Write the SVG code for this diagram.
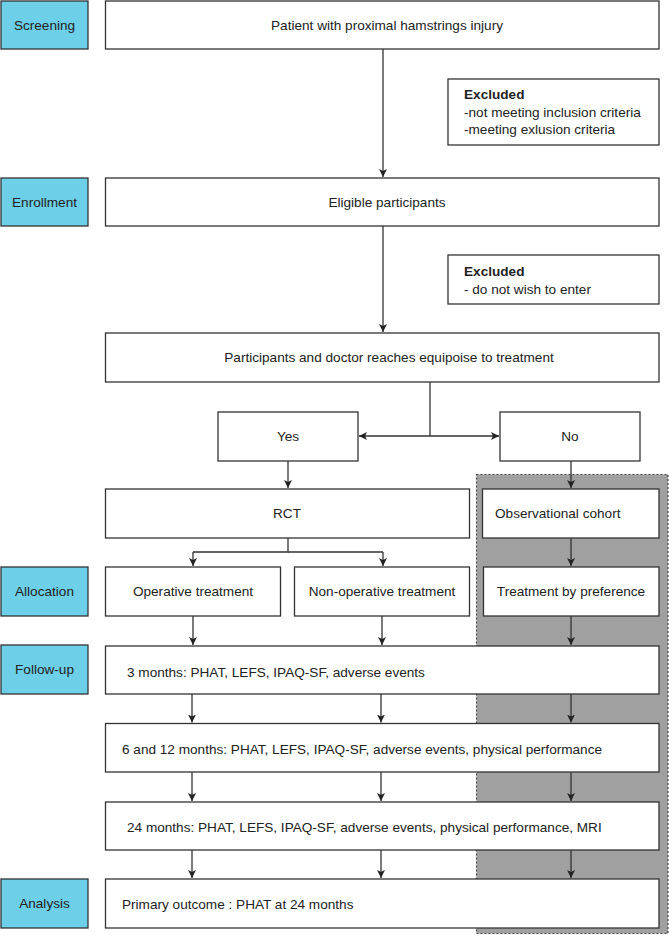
<svg xmlns="http://www.w3.org/2000/svg" width="669" height="938" viewBox="0 0 669 938">
<defs>
<marker id="arr" viewBox="0 0 10 10" refX="10" refY="5" markerWidth="8" markerHeight="8" markerUnits="userSpaceOnUse" orient="auto">
<path d="M0,0 L10,5 L0,10 L2.5,5 Z" fill="#222"/>
</marker>
<style>
.stage rect{fill:#6dcfe8;stroke:#333;stroke-width:1.3}
.box rect{fill:#fff;stroke:#333;stroke-width:1.3}
text{font-family:"Liberation Sans",Arial,sans-serif;font-size:13.6px;fill:#222}
.c{text-anchor:middle}
.b{font-weight:bold}
#connectors line,#connectors path{stroke:#333;stroke-width:1.3;fill:none}
.a{marker-end:url(#arr)}
</style>
</defs>
<rect width="669" height="938" fill="#fff"/>
<rect id="cohort-bg" x="476.5" y="474.5" width="191.5" height="459" fill="#a0a0a0" stroke="#444" stroke-width="1.2" stroke-dasharray="2,2"/>

<g id="stage-screening" class="stage"><rect x="1" y="1" width="87" height="48"/><text class="c" x="44.5" y="30">Screening</text></g>
<g id="stage-enrollment" class="stage"><rect x="1" y="178" width="87" height="48"/><text class="c" x="44.5" y="207">Enrollment</text></g>
<g id="stage-allocation" class="stage"><rect x="1" y="567" width="87" height="49"/><text class="c" x="44.5" y="596">Allocation</text></g>
<g id="stage-followup" class="stage"><rect x="1" y="645" width="87" height="49"/><text class="c" x="44.5" y="674">Follow-up</text></g>
<g id="stage-analysis" class="stage"><rect x="1" y="879" width="87" height="49"/><text class="c" x="44.5" y="908">Analysis</text></g>

<g id="patient" class="box"><rect x="105.5" y="1" width="553.5" height="48"/><text class="c" x="387" y="30">Patient with proximal hamstrings injury</text></g>
<g id="excluded1" class="box"><rect x="448" y="79" width="211" height="66"/><text class="b" x="464" y="99">Excluded</text><text x="464" y="117">-not meeting inclusion criteria</text><text x="464" y="134">-meeting exlusion criteria</text></g>
<g id="eligible" class="box"><rect x="105.5" y="178" width="553.5" height="48"/><text class="c" x="387" y="207">Eligible participants</text></g>
<g id="excluded2" class="box"><rect x="448" y="255" width="211" height="49"/><text class="b" x="464" y="276">Excluded</text><text x="464" y="294">- do not wish to enter</text></g>
<g id="equipoise" class="box"><rect x="105.5" y="333" width="553.5" height="49"/><text class="c" x="389" y="362">Participants and doctor reaches equipoise to treatment</text></g>
<g id="yes" class="box"><rect x="218" y="412" width="140" height="49"/><text class="c" x="288" y="441">Yes</text></g>
<g id="no" class="box"><rect x="500" y="412" width="140" height="49"/><text class="c" x="570" y="441">No</text></g>
<g id="rct" class="box"><rect x="105.5" y="489" width="364" height="49"/><text class="c" x="287" y="518">RCT</text></g>
<g id="observational" class="box"><rect x="482.5" y="489" width="176.5" height="49"/><text x="495" y="518">Observational cohort</text></g>
<g id="operative" class="box"><rect x="105.5" y="567" width="175" height="49"/><text class="c" x="193" y="596">Operative treatment</text></g>
<g id="nonoperative" class="box"><rect x="294.5" y="567" width="175" height="49"/><text class="c" x="382" y="596">Non-operative treatment</text></g>
<g id="preference" class="box"><rect x="483.5" y="567" width="175.5" height="49"/><text class="c" x="571" y="596">Treatment by preference</text></g>
<g id="fu3" class="box"><rect x="105.5" y="646" width="553.5" height="48"/><text x="127" y="677">3 months: PHAT, LEFS, IPAQ-SF, adverse events</text></g>
<g id="fu612" class="box"><rect x="105.5" y="723.5" width="553.5" height="48.5"/><text x="122" y="754">6 and 12 months: PHAT, LEFS, IPAQ-SF, adverse events, physical performance</text></g>
<g id="fu24" class="box"><rect x="105.5" y="802" width="553.5" height="48"/><text x="127" y="832">24 months: PHAT, LEFS, IPAQ-SF, adverse events, physical performance, MRI</text></g>
<g id="primary" class="box"><rect x="105.5" y="879" width="553.5" height="49"/><text x="122" y="909">Primary outcome : PHAT at 24 months</text></g>

<g id="connectors">
<line class="a" x1="383" y1="49" x2="383" y2="177"/>
<line class="a" x1="383" y1="226" x2="383" y2="332"/>
<line x1="430" y1="382" x2="430" y2="436"/>
<line class="a" x1="430" y1="436" x2="359" y2="436"/>
<line class="a" x1="430" y1="436" x2="499" y2="436"/>
<line class="a" x1="288" y1="461" x2="288" y2="488"/>
<line class="a" x1="571" y1="461" x2="571" y2="488"/>
<path d="M288,538 V552 H193"/>
<line class="a" x1="193" y1="552" x2="193" y2="566"/>
<path d="M288,552 H383"/>
<line class="a" x1="383" y1="552" x2="383" y2="566"/>
<line class="a" x1="571" y1="538" x2="571" y2="566"/>
<line class="a" x1="193" y1="616" x2="193" y2="645"/>
<line class="a" x1="382" y1="616" x2="382" y2="645"/>
<line class="a" x1="571" y1="616" x2="571" y2="645"/>
<line class="a" x1="192" y1="694" x2="192" y2="722.5"/>
<line class="a" x1="381" y1="694" x2="381" y2="722.5"/>
<line class="a" x1="571" y1="694" x2="571" y2="722.5"/>
<line class="a" x1="192" y1="772" x2="192" y2="801"/>
<line class="a" x1="381" y1="772" x2="381" y2="801"/>
<line class="a" x1="571" y1="772" x2="571" y2="801"/>
<line class="a" x1="192" y1="850" x2="192" y2="878"/>
<line class="a" x1="381" y1="850" x2="381" y2="878"/>
<line class="a" x1="571" y1="850" x2="571" y2="878"/>
</g>
</svg>
